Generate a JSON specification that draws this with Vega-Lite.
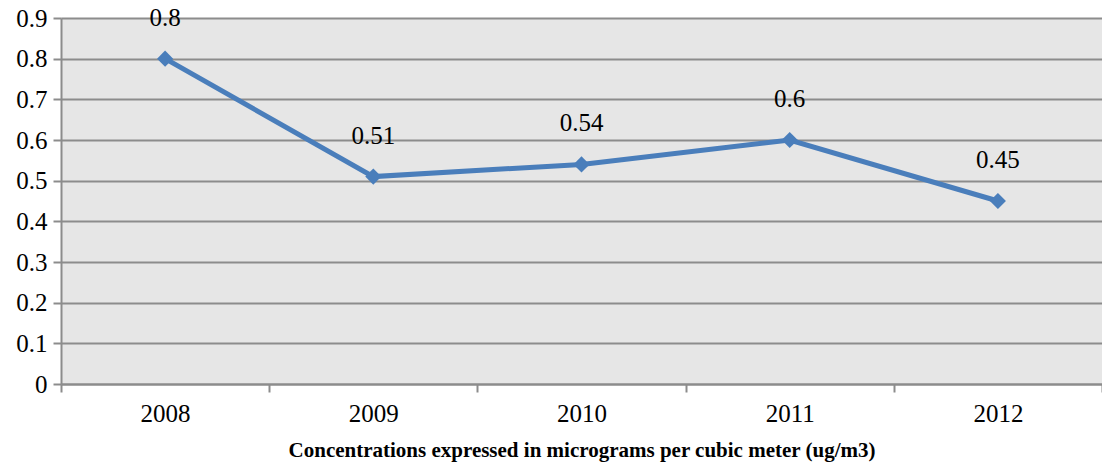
{
  "$schema": "https://vega.github.io/schema/vega-lite/v6.json",
  "width": 1041,
  "height": 366,
  "autosize": {"type": "none"},
  "padding": {"left": 61, "top": 18, "right": 0, "bottom": 82},
  "background": "white",
  "config": {
    "view": {"fill": "#E6E6E6", "stroke": null},
    "font": "Liberation Serif",
    "axis": {"labelFont": "Liberation Serif", "titleFont": "Liberation Serif"},
    "text": {"font": "Liberation Serif"}
  },
  "data": {
    "values": [
      {"year": "2008", "value": 0.8},
      {"year": "2009", "value": 0.51},
      {"year": "2010", "value": 0.54},
      {"year": "2011", "value": 0.6},
      {"year": "2012", "value": 0.45}
    ]
  },
  "encoding": {
    "x": {
      "field": "year",
      "type": "ordinal",
      "bandPosition": 0.5,
      "scale": {"type": "band", "paddingInner": 0, "paddingOuter": 0},
      "axis": {
        "title": "Concentrations expressed in micrograms per cubic meter (ug/m3)",
        "titleFontSize": 21,
        "titleFontWeight": "bold",
        "titleColor": "black",
        "titlePadding": 13,
        "labelAngle": 0,
        "labelFontSize": 25,
        "labelColor": "black",
        "labelPadding": 9,
        "tickBand": "extent",
        "tickColor": "#8C8C8C",
        "tickWidth": 2,
        "tickSize": 8,
        "domainColor": "#8C8C8C",
        "domainWidth": 2,
        "grid": false
      }
    },
    "y": {
      "field": "value",
      "type": "quantitative",
      "scale": {"domain": [0, 0.9], "nice": false},
      "axis": {
        "title": null,
        "values": [0, 0.1, 0.2, 0.3, 0.4, 0.5, 0.6, 0.7, 0.8, 0.9],
        "format": "~g",
        "labelFontSize": 25,
        "labelColor": "black",
        "labelPadding": 6,
        "tickColor": "#8C8C8C",
        "tickWidth": 2,
        "tickSize": 8,
        "domainColor": "#8C8C8C",
        "domainWidth": 2,
        "grid": true,
        "gridColor": "#8C8C8C",
        "gridWidth": 2
      }
    }
  },
  "layer": [
    {
      "mark": {"type": "line", "color": "#4A7EBB", "strokeWidth": 5}
    },
    {
      "mark": {"type": "point", "shape": "diamond", "filled": true, "opacity": 1, "color": "#4A7EBB", "size": 260}
    },
    {
      "mark": {"type": "text", "dy": -41, "fontSize": 25, "color": "black"},
      "encoding": {"text": {"field": "value", "type": "quantitative"}}
    }
  ]
}
